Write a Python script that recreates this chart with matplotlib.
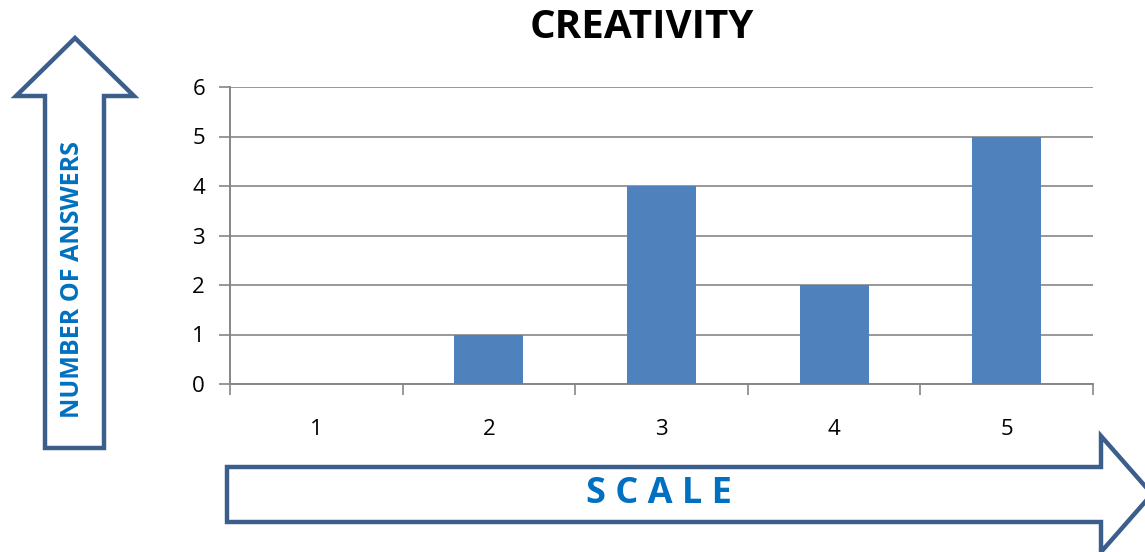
import matplotlib
matplotlib.use("Agg")
import matplotlib.pyplot as plt
from matplotlib.patches import Polygon

# data
categories = ["1", "2", "3", "4", "5"]
answers = [0, 1, 4, 2, 5]
y_ticks = [0, 1, 2, 3, 4, 5, 6]

title = "CREATIVITY"
y_label = "NUMBER OF ANSWERS"
x_label = "S C A L E"

bar_color = "#4F81BD"
grid_color = "#868686"
arrow_edge = "#3B5E8C"
text_blue = "#0070C0"

plt.rcParams["font.family"] = ["Open Sans", "DejaVu Sans"]

W, H = 1145, 552
fig = plt.figure(figsize=(W / 100, H / 100), dpi=100)

# main chart area (pixel-based placement)
left, right, top, bottom = 230, 1093, 87, 384
ax = fig.add_axes([left / W, 1 - bottom / H, (right - left) / W, (bottom - top) / H])

xs = list(range(len(categories)))
ax.bar(xs, answers, width=0.4, color=bar_color, zorder=3)
ax.set_xlim(-0.5, len(categories) - 0.5)
ax.set_ylim(0, 6)
ax.set_yticks(y_ticks)
ax.yaxis.grid(True, color=grid_color, linewidth=1.2, zorder=0)
ax.set_axisbelow(True)

ax.set_xticks(xs)
ax.set_xticklabels(categories, fontsize=16)
ax.set_xticks([x - 0.5 for x in range(len(categories) + 1)], minor=True)
ax.tick_params(axis="x", which="major", length=0, pad=25)
ax.tick_params(axis="x", which="minor", length=8, width=1.2, color=grid_color, direction="out")
ax.tick_params(axis="y", length=8, width=1.2, color=grid_color, direction="out", pad=10, labelsize=16)

for s in ["top", "right"]:
    ax.spines[s].set_visible(False)
for s in ["left", "bottom"]:
    ax.spines[s].set_color(grid_color)
    ax.spines[s].set_linewidth(1.4)

fig.text(642 / W, 1 - 27 / H, title, ha="center", va="center",
         fontsize=29, fontweight="bold", color="black")

# overlay for the decorative arrows
ov = fig.add_axes([0, 0, 1, 1], zorder=-1)
ov.set_xlim(0, W)
ov.set_ylim(H, 0)
ov.axis("off")

up_arrow = [(45, 448), (45, 96), (16, 96), (75, 38), (134, 96), (104, 96), (104, 448)]
ov.add_patch(Polygon(up_arrow, closed=True, facecolor="white", edgecolor=arrow_edge,
                     linewidth=3.2, joinstyle="miter"))

right_arrow = [(227, 467), (1101, 467), (1101, 436), (1152, 494), (1101, 552),
               (1101, 522), (227, 522)]
ov.add_patch(Polygon(right_arrow, closed=True, facecolor="white", edgecolor=arrow_edge,
                     linewidth=3.2, joinstyle="miter", clip_on=False))

ov.text(73, 280, y_label, rotation=90, ha="center", va="center",
        fontsize=18, fontweight="bold", color=text_blue)
ov.text(659, 494, x_label, ha="center", va="center",
        fontsize=26, fontweight="bold", color=text_blue)

fig.savefig("out.png", dpi=100)
